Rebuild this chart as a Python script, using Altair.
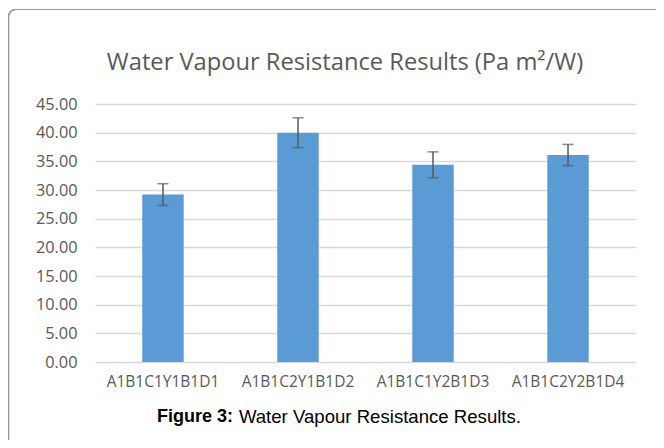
import altair as alt
import pandas as pd

categories = ["A1B1C1Y1B1D1", "A1B1C2Y1B1D2", "A1B1C1Y2B1D3", "A1B1C2Y2B1D4"]
means = [29.2, 40.0, 34.4, 36.1]
errors = [1.9, 2.6, 2.25, 1.85]
y_ticks = [0, 5, 10, 15, 20, 25, 30, 35, 40, 45]
title_text = "Water Vapour Resistance Results (Pa m\u00b2/W)"
caption_bold = "Figure 3:"
caption_rest = "Water Vapour Resistance Results."

df = pd.DataFrame({
    "cat": categories,
    "mean": means,
    "lo": [m - e for m, e in zip(means, errors)],
    "hi": [m + e for m, e in zip(means, errors)],
})

W = 541
H = 258
GRAY = "#595959"

x_scale = alt.Scale(paddingInner=0.693, paddingOuter=0.35)
y_scale = alt.Scale(domain=[0, 45], nice=False)
x_axis = alt.Axis(labelAngle=0, ticks=False, domain=False, grid=False,
                  labelPadding=12, labelFont="Open Sans", labelFontSize=15.5,
                  labelColor=GRAY, labelLimit=200)
y_axis = alt.Axis(values=y_ticks, format=".2f", ticks=False, domain=False,
                  labelOverlap=False, labelPadding=18, labelFont="Open Sans",
                  labelFontSize=16.3, labelColor=GRAY, gridColor="#d9d9d9",
                  gridWidth=1.3)


def xe():
    return alt.X("cat:N", sort=categories, title=None, scale=x_scale, axis=x_axis)


def ye(field):
    return alt.Y(field, scale=y_scale, title=None, axis=y_axis)


bars = alt.Chart(df).mark_bar(color="#5b9bd5").encode(x=xe(), y=ye("mean:Q"))

rules = alt.Chart(df).mark_rule(color=GRAY, strokeWidth=1.5).encode(
    x=xe(), y=ye("lo:Q"), y2="hi:Q"
)
caps_hi = alt.Chart(df).mark_tick(color=GRAY, size=11, thickness=1.5, orient="horizontal").encode(
    x=xe(), y=ye("hi:Q")
)
caps_lo = alt.Chart(df).mark_tick(color=GRAY, size=11, thickness=1.5, orient="horizontal").encode(
    x=xe(), y=ye("lo:Q")
)

frame = alt.Chart(df).mark_rect(
    fill="transparent", stroke="#9a9a9a", strokeWidth=1.2, cornerRadius=7
).encode(
    x=alt.value(-86.5), y=alt.value(-94.5), x2=alt.value(W + 100), y2=alt.value(H + 200)
)

title = alt.Chart(pd.DataFrame({"t": [title_text]})).mark_text(
    font="Open Sans", fontSize=23.7, color=GRAY, align="center", baseline="middle"
).encode(text="t:N", x=alt.value(250), y=alt.value(-41))

cap1 = alt.Chart(pd.DataFrame({"t": [caption_bold]})).mark_text(
    font="Liberation Sans", fontSize=18, fontWeight="bold", color="#000000",
    align="left", baseline="middle"
).encode(text="t:N", x=alt.value(62), y=alt.value(313))

cap2 = alt.Chart(pd.DataFrame({"t": [caption_rest]})).mark_text(
    font="Liberation Sans", fontSize=18.6, color="#000000",
    align="right", baseline="middle"
).encode(text="t:N", x=alt.value(426), y=alt.value(313))

chart = alt.layer(frame, bars, rules, caps_hi, caps_lo, title, cap1, cap2).properties(
    width=W, height=H,
    background="white",
    autosize=alt.AutoSizeParams(type="none"),
    padding={"left": 87, "top": 96, "right": 20, "bottom": 78},
).configure_view(stroke="transparent", strokeWidth=0)

chart.save("out.html", embed_options={"renderer": "svg", "actions": False})
